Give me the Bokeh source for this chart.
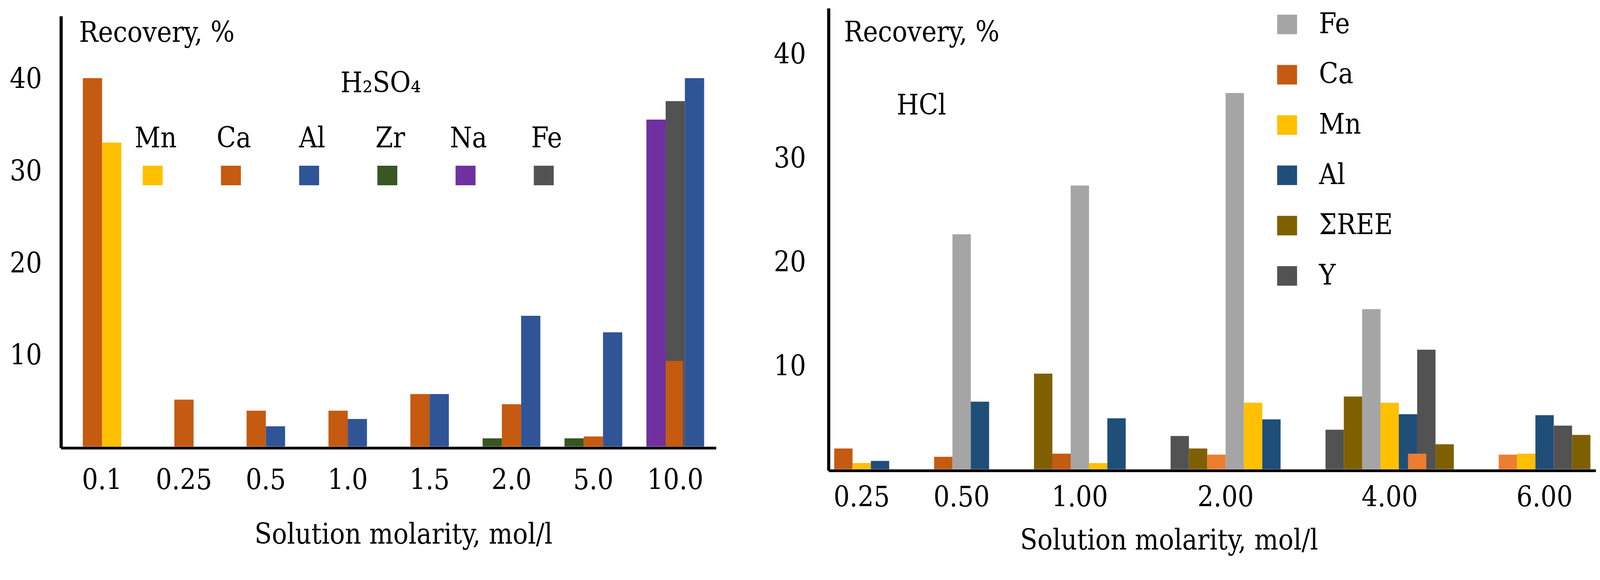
from bokeh.embed import file_html
from bokeh.resources import INLINE
from bokeh.models import (BoxAnnotation, ColumnDataSource, FactorRange,
                          FixedTicker, Label, Range1d, Title)
from bokeh.plotting import figure
from bokeh.transform import dodge

FONT = "DejaVu Serif Condensed"
FS = "72px"

# H2SO4 leaching, recovery %
molarity_h2so4 = ["0.1", "0.25", "0.5", "1.0", "1.5", "2.0", "5.0", "10.0"]
mn_h2so4 = [33.0, 0, 0, 0, 0, 0, 0, 0]
ca_h2so4 = [40.0, 5.1, 3.9, 3.9, 5.7, 4.6, 1.1, 9.3]
al_h2so4 = [0, 0, 2.2, 3.0, 5.7, 14.2, 12.4, 40.0]
zr_h2so4 = [0, 0, 0, 0, 0, 0.9, 0.9, 0]
na_h2so4 = [0, 0, 0, 0, 0, 0, 0, 35.5]
fe_h2so4 = [0, 0, 0, 0, 0, 0, 0, 37.5]
legend_h2so4 = ["Mn", "Ca", "Al", "Zr", "Na", "Fe"]

# HCl leaching, recovery %
molarity_hcl = ["0.25", "0.50", "1.00", "2.00", "4.00", "6.00"]
fe_hcl = [0, 22.6, 27.3, 36.2, 15.4, 0]
ca_hcl = [2.0, 1.2, 1.5, 1.4, 1.5, 1.4]
mn_hcl = [0.6, 0, 0.6, 6.4, 6.4, 1.5]
al_hcl = [0.8, 6.5, 4.9, 4.8, 5.3, 5.2]
ree_hcl = [0, 0, 9.2, 2.0, 7.0, 0]
y_hcl = [0, 0, 0, 3.2, 3.8, 0]
y_hcl_2 = [0, 0, 0, 0, 11.5, 4.2]
ree_hcl_2 = [0, 0, 0, 0, 2.4, 3.3]
legend_hcl = ["Fe", "Ca", "Mn", "Al", "\u03a3REE", "Y"]

# colours
MN = "#FFC000"
CA = "#C55A11"
CA_LIGHT = "#ED7D31"
AL_1 = "#2F5597"
AL_2 = "#1F4E79"
ZR = "#375623"
NA = "#7030A0"
FE_1 = "#525252"
FE_2 = "#A5A5A5"
REE = "#7F6000"
YT = "#525252"

series_h2so4 = {"Zr": (zr_h2so4, ZR), "Na": (na_h2so4, NA), "Ca": (ca_h2so4, CA),
                "Fe": (fe_h2so4, FE_1), "Mn": (mn_h2so4, MN), "Al": (al_h2so4, AL_1)}
order_h2so4 = ["Zr", "Na", "Ca", "Fe", "Mn", "Al"]
# bar drawn on top of another slot: (slot, shift, width) in bar widths
over_h2so4 = {("10.0", "Ca"): ("Fe", -0.05, 0.9)}

series_hcl = {"Y": (y_hcl, YT), "REE": (ree_hcl, REE), "Ca": (ca_hcl, CA),
              "Fe": (fe_hcl, FE_2), "Mn": (mn_hcl, MN), "Al": (al_hcl, AL_2),
              "Y2": (y_hcl_2, YT), "REE2": (ree_hcl_2, REE)}
order_hcl = ["Y", "REE", "Ca", "Fe", "Mn", "Al", "Y2", "REE2"]
over_hcl = {("4.00", "Ca"): ("Al", 0.5, 1.0)}
recolor_hcl = {(g, "Ca"): CA_LIGHT for g in ["2.00", "4.00", "6.00"]}

# two independent roots side by side
PAGE = """
{% block postamble %}
<style>
  html, body { overflow: hidden; }
  body { display: flex; flex-direction: row; align-items: flex-start; }
  body > *, body > * > * { flex-shrink: 0; }
</style>
{% endblock %}
"""


def packed_bars(groups, series, order, overlays, bw):
    """Bars of one category packed side by side around its centre."""
    layers = {}
    for i, g in enumerate(groups):
        present = [k for k in order if series[k][0][i] and (g, k) not in overlays]
        n = len(present)
        where = {}
        for j, key in enumerate(present):
            off = round((j - (n - 1) / 2) * bw, 4)
            where[key] = off
            d = layers.setdefault((0, off, bw), dict(x=[], top=[], color=[]))
            d["x"].append(g)
            d["top"].append(series[key][0][i])
            d["color"].append(series[key][1])
        for (gg, key), (slot, shift, w) in overlays.items():
            if gg != g:
                continue
            off = round(where[slot] + shift * bw, 4)
            d = layers.setdefault((1, off, w * bw), dict(x=[], top=[], color=[]))
            d["x"].append(g)
            d["top"].append(series[key][0][i])
            d["color"].append(series[key][1])
    return layers


def bar_table(groups, series, order, overlays, recolor):
    main = dict(x=[], top=[], color=[])
    extra = []
    for i, g in enumerate(groups):
        for key in order:
            vals, color = series[key]
            color = recolor.get((g, key), color)
            if not vals[i]:
                continue
            if (g, key) in overlays:
                slot, shift, w = overlays[(g, key)]
                extra.append(((g, slot), vals[i], color, shift, w))
                continue
            main["x"].append((g, key))
            main["top"].append(vals[i])
            main["color"].append(color)
    return main, extra


def base(x_range, frame, borders, yr, y_standoff, x_standoff):
    p = figure(x_range=x_range, y_range=Range1d(*yr),
               frame_width=frame[0], frame_height=frame[1],
               output_backend="svg", toolbar_location=None,
               min_border_left=borders[0], min_border_right=borders[1],
               min_border_top=borders[2], min_border_bottom=borders[3])
    p.xgrid.visible = False
    p.ygrid.visible = False
    p.outline_line_color = None

    ya = p.yaxis[0]
    ya.ticker = FixedTicker(ticks=[10, 20, 30, 40])
    ya.axis_line_width = 8
    ya.axis_line_color = "black"
    ya.major_tick_line_color = None
    ya.minor_tick_line_color = None
    ya.major_tick_out = 0
    ya.major_tick_in = 0
    ya.minor_tick_out = 0
    ya.major_label_text_font = FONT
    ya.major_label_text_font_size = FS
    ya.major_label_text_color = "black"
    ya.major_label_standoff = y_standoff

    xa = p.xaxis[0]
    xa.axis_line_width = 7
    xa.axis_line_color = "black"
    xa.major_tick_line_color = None
    xa.major_tick_out = 0
    xa.major_tick_in = 0
    xa.major_label_text_font = FONT
    xa.major_label_text_font_size = FS
    xa.major_label_text_color = "black"
    xa.major_label_standoff = x_standoff
    return p


def text(p, s, x, y, align="left"):
    p.add_layout(Label(x=x, y=y, x_units="screen", y_units="screen", text=s,
                       text_font=FONT, text_font_size=FS, text_color="black",
                       text_align=align, text_baseline="alphabetic"))


def square(p, left, bottom, size_x, size_y, color):
    p.add_layout(BoxAnnotation(left=left, right=left + size_x, bottom=bottom,
                               top=bottom + size_y, left_units="screen",
                               right_units="screen", top_units="screen",
                               bottom_units="screen", fill_color=color,
                               fill_alpha=1, line_color=None))


def x_title(p, s, offset, standoff):
    p.add_layout(Title(text=s, align="left", offset=offset, vertical_align="top",
                       standoff=standoff, text_font=FONT, text_font_size=FS,
                       text_font_style="normal", text_color="black"), "below")


# left panel: evenly spaced molarities, bars packed around each one
p1 = base(FactorRange(factors=molarity_h2so4, range_padding=0,
                      range_padding_units="absolute"),
          (1677, 1105), (156, 109, 41, 363), (-0.166, 46.72), 49, 52)
for (layer, off, w), d in sorted(packed_bars(molarity_h2so4, series_h2so4,
                                             order_h2so4, over_h2so4, 0.235).items()):
    p1.vbar(x=dodge("x", off, range=p1.x_range), top="top", width=w,
            fill_color="color", line_color=None, source=ColumnDataSource(d))
text(p1, "Recovery, %", 46, 1065)
text(p1, "H\u2082SO\u2084", 715, 936)
leg_colors_1 = [MN, CA, AL_1, ZR, NA, FE_1]
for k, (name, c) in enumerate(zip(legend_h2so4, leg_colors_1)):
    left = 209 + 200.2 * k
    square(p1, left, 672.5, 51, 50, c)
    text(p1, name, left + 33, 795, "center")
x_title(p1, "Solution molarity, mol/l", 495, 138)

# right panel: nested factors, one slot per bar
m2, e2 = bar_table(molarity_hcl, series_hcl, order_hcl, over_hcl, recolor_hcl)
p2 = base(FactorRange(factors=m2["x"], factor_padding=0, group_padding=2.45,
                      range_padding=0.3, range_padding_units="absolute"),
          (1964, 1183), (179, 16, 21, 291), (-0.147, 44.34), 58, 38)
p2.vbar(x="x", top="top", width=1.0, fill_color="color", line_color=None,
        source=ColumnDataSource(m2))
for fac, v, color, shift, w in e2:
    p2.vbar(x=dodge("x", shift, range=p2.x_range), top="top", width=w,
            fill_color=color, line_color=None,
            source=ColumnDataSource(dict(x=[fac], top=[v])))
xa2 = p2.xaxis[0]
xa2.major_label_text_color = None
xa2.major_label_text_font_size = "1px"
xa2.group_text_font = FONT
xa2.group_text_font_size = FS
xa2.group_text_font_style = "normal"
xa2.group_text_color = "black"
xa2.separator_line_color = None
text(p2, "Recovery, %", 39, 1124)
text(p2, "HCl", 174, 937)
leg_colors_2 = [FE_2, CA, MN, AL_2, REE, YT]
for k, (name, c) in enumerate(zip(legend_hcl, leg_colors_2)):
    top = 1167 - 128.7 * k
    square(p2, 1148, top - 50, 51, 50, c)
    text(p2, name, 1255, top - 22)
x_title(p2, "Solution molarity, mol/l", 490, 80)

open("out.html", "w").write(file_html([p1, p2], INLINE, template=PAGE))
